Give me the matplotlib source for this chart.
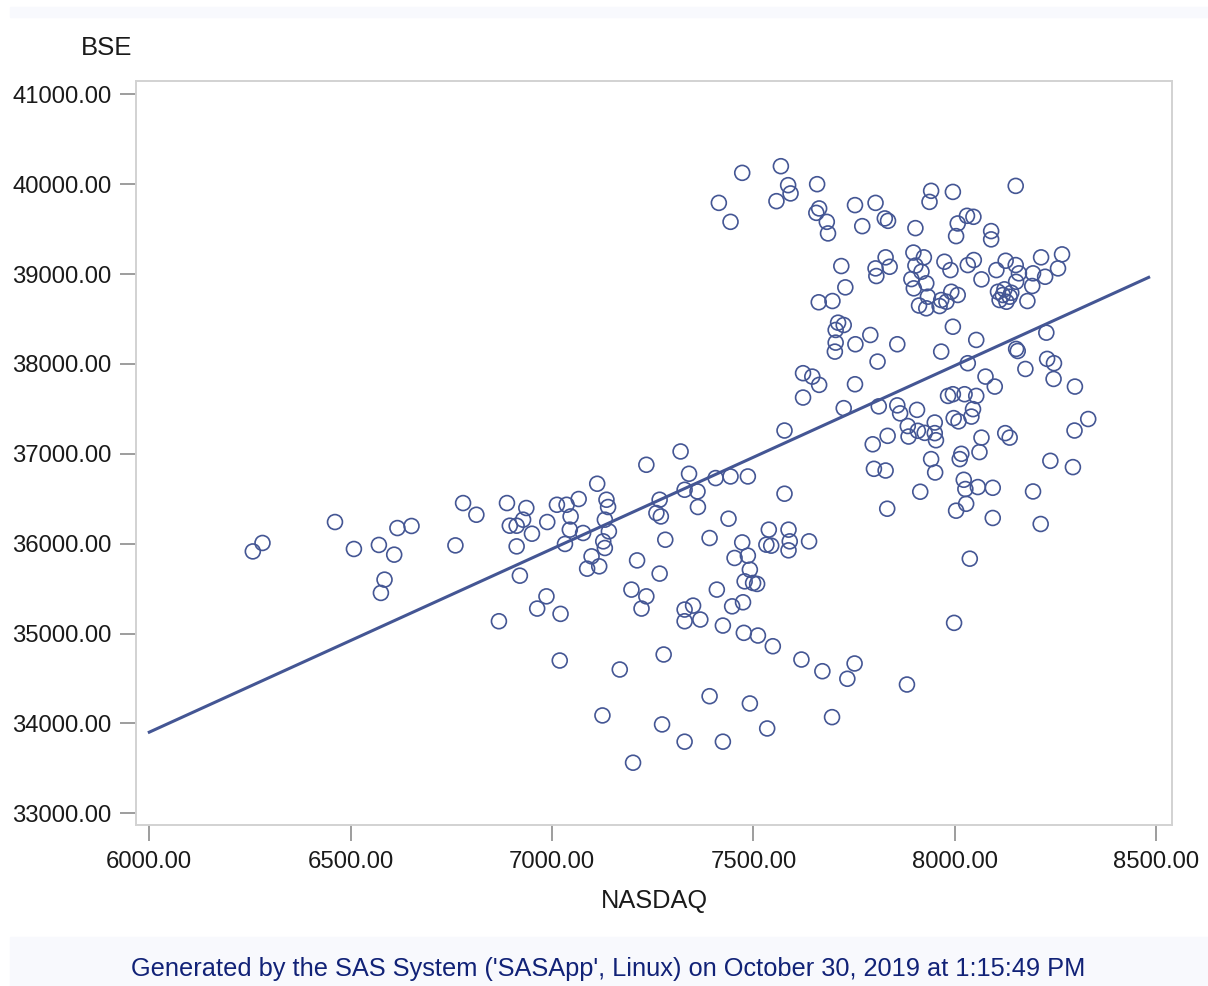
import numpy as np
import matplotlib
matplotlib.use('Agg')
from matplotlib import pyplot as plt
from matplotlib.patches import Rectangle
from matplotlib.ticker import FormatStrFormatter

plt.rcParams['font.family'] = ['Liberation Sans', 'DejaVu Sans']

# valores (NASDAQ vs BSE)
nasdaq = [
    6257, 6281, 6461, 6508, 6570, 6608, 6584, 6575, 6616, 6651, 6779, 6812, 6760, 6868,
    6888, 6936, 6895, 6912, 6928, 6988, 6950, 6912, 6920, 7012, 7036, 7066, 7046, 7044,
    7077, 7032, 7112, 7135, 7139, 7131, 7141, 7127, 7131, 7098, 7087, 7117, 6986, 6963,
    7021, 7211, 7234, 7319, 7340, 7406, 7443, 7486, 7577, 7577, 7329, 7361, 7362, 7267,
    7259, 7270, 7281, 7267, 7197, 7234, 7222, 7438, 7391, 7538, 7532, 7544, 7587, 7590,
    7587, 7472, 7453, 7486, 7491, 7478, 7499, 7509, 7409, 7447, 7474, 7329, 7350, 7329,
    7368, 7424, 7476, 7511, 7548, 7277, 7019, 7638,
    7168, 7619, 7671, 7751, 7733, 7881, 7391, 7491, 7125, 7273, 7329, 7424, 7534, 7695, 7201,
    7472, 7568, 7586, 7592, 7557, 7414, 7443, 7658, 7663, 7656, 7682, 7685, 7752, 7803,
    7826, 7834, 7770, 7902, 7718, 7828, 7838, 7803, 7805, 7897, 7902, 7892, 7898, 7911,
    7728, 7662, 7696, 7710, 7724, 7704, 7704, 7702, 7753, 7790, 7857, 7808, 7623, 7646,
    7663, 7623, 7752, 7724, 7811, 7857, 7864, 7906, 7833, 7796, 7883, 7885, 7908,
    8151, 7941, 7937, 7995, 8030, 8046, 8007, 8003, 8090, 8090, 7923, 7917, 7929, 7974,
    7989, 8032, 8047, 8066, 8103, 8126, 8151, 8159, 8152, 8214, 8266, 8256, 8224, 8194,
    8192, 8180, 8107, 8123, 8140, 8111, 8128, 8136, 8119, 7929, 7962, 7979, 7991, 8007,
    7933, 7966, 7995, 8053, 7966, 8032, 8227, 8152, 8156, 8229, 8246, 8245, 8175, 8076,
    8099, 8298, 7983, 7995, 8024, 8053, 8045, 8041, 7950, 7997, 8009, 7925, 7950, 7953,
    8066, 8125, 8136, 8331, 8297,
    8061, 7941, 7951, 8016, 8012, 7799, 7828, 8022, 8026, 8057, 8094, 8028, 8003, 8237,
    8293, 7914, 8194, 8094, 8213, 7832, 8037, 7998,
]
bse = [
    35914, 36008, 36241, 35941, 35986, 35878, 35600, 35452, 36174, 36197, 36452, 36322, 35981, 35137,
    36452, 36397, 36200, 36200, 36267, 36241, 36111, 35970, 35644, 36433, 36433, 36497, 36303, 36156,
    36119, 35997, 36667, 36489, 36408, 36267, 36137, 36026, 35952, 35859, 35722, 35748, 35414, 35278,
    35219, 35814, 36878, 37026, 36778, 36730, 36748, 36748, 37259, 36556, 36600, 36581, 36408, 36489,
    36341, 36303, 36044, 35667, 35489, 35414, 35278, 36278, 36063, 36156, 35989, 35978, 36156, 36026,
    35926, 36014, 35841, 35867, 35711, 35581, 35563, 35552, 35489, 35303, 35348, 35267, 35311, 35137,
    35156, 35089, 35008, 34978, 34859, 34767, 34700, 36026,
    34600, 34711, 34581, 34667, 34497, 34433, 34303, 34222, 34089, 33989, 33797, 33797, 33944, 34070, 33563,
    40126, 40200, 39989, 39897, 39811, 39792, 39581, 40000, 39730, 39681, 39581, 39452, 39767, 39792,
    39619, 39592, 39533, 39511, 39089, 39186, 39081, 39063, 38978, 39239, 39094, 38944, 38841, 38650,
    38852, 38686, 38700, 38459, 38433, 38378, 38237, 38137, 38219, 38322, 38219, 38026, 37897, 37859,
    37767, 37626, 37774, 37508, 37528, 37539, 37450, 37489, 37200, 37106, 37309, 37192, 37256,
    39981, 39926, 39803, 39914, 39648, 39637, 39563, 39422, 39478, 39386, 39186, 39026, 38897, 39137,
    39044, 39100, 39156, 38941, 39044, 39148, 39100, 39008, 38914, 39186, 39219, 39063, 38970, 39008,
    38867, 38700, 38803, 38830, 38792, 38711, 38692, 38748, 38767, 38619, 38644, 38692, 38803, 38767,
    38748, 38711, 38414, 38267, 38137, 38008, 38348, 38167, 38144, 38056, 38008, 37833, 37944, 37859,
    37748, 37748, 37644, 37663, 37663, 37644, 37497, 37414, 37348, 37397, 37361, 37233, 37230, 37151,
    37180, 37230, 37180, 37387, 37259,
    37019, 36941, 36792, 37000, 36941, 36833, 36814, 36711, 36608, 36630, 36622, 36444, 36367, 36922,
    36852, 36578, 36581, 36286, 36219, 36389, 35833, 35119,
]

# recta de regresion (extremos)
fit_x = [6000, 8481]
fit_y = [33903, 38963]

x_ticks = [6000, 6500, 7000, 7500, 8000, 8500]
y_ticks = [33000, 34000, 35000, 36000, 37000, 38000, 39000, 40000, 41000]

color = '#445694'
W, H = 1208, 986
fig = plt.figure(figsize=(W / 100, H / 100), dpi=100)

# bandas de fondo (cabecera y pie)
fig.patches.append(Rectangle((10 / W, 1 - 17 / H), 1 - 10 / W, 10 / H,
                             transform=fig.transFigure, color='#f8f9fd', zorder=0))
fig.patches.append(Rectangle((10 / W, 0), 1 - 10 / W, (H - 937) / H,
                             transform=fig.transFigure, color='#f8f9fd', zorder=0))

ax = fig.add_axes([136 / W, 1 - 825 / H, (1172 - 136) / W, (825 - 81) / H])
ax.scatter(nasdaq, bse, s=115, facecolors='none', edgecolors=color, linewidths=1.2, zorder=3)
ax.plot(fit_x, fit_y, color=color, lw=2.2, zorder=4)

ax.set_xlim(5967, 8539)
ax.set_ylim(32870, 41148)
ax.set_xticks(x_ticks)
ax.set_yticks(y_ticks)
ax.xaxis.set_major_formatter(FormatStrFormatter('%.2f'))
ax.yaxis.set_major_formatter(FormatStrFormatter('%.2f'))
ax.tick_params(axis='both', length=11.5, width=1.2, color='#8c8c8c',
               labelsize=17.2, labelcolor='#1a1a1a')
ax.tick_params(axis='x', pad=7)
ax.tick_params(axis='y', pad=6)
for s in ax.spines.values():
    s.set_color('#d2d2d2')
    s.set_linewidth(1.4)

ax.set_xlabel('NASDAQ', fontsize=18.3, color='#1a1a1a', labelpad=12)
fig.text(81 / W, 1 - 48 / H, 'BSE', fontsize=18.5, color='#1a1a1a', ha='left', va='center')
fig.text(608 / W, 1 - 969 / H,
         "Generated by the SAS System ('SASApp', Linux) on October 30, 2019 at 1:15:49 PM",
         fontsize=18.3, color='#112277', ha='center', va='center')

fig.savefig('out.png', dpi=100)
